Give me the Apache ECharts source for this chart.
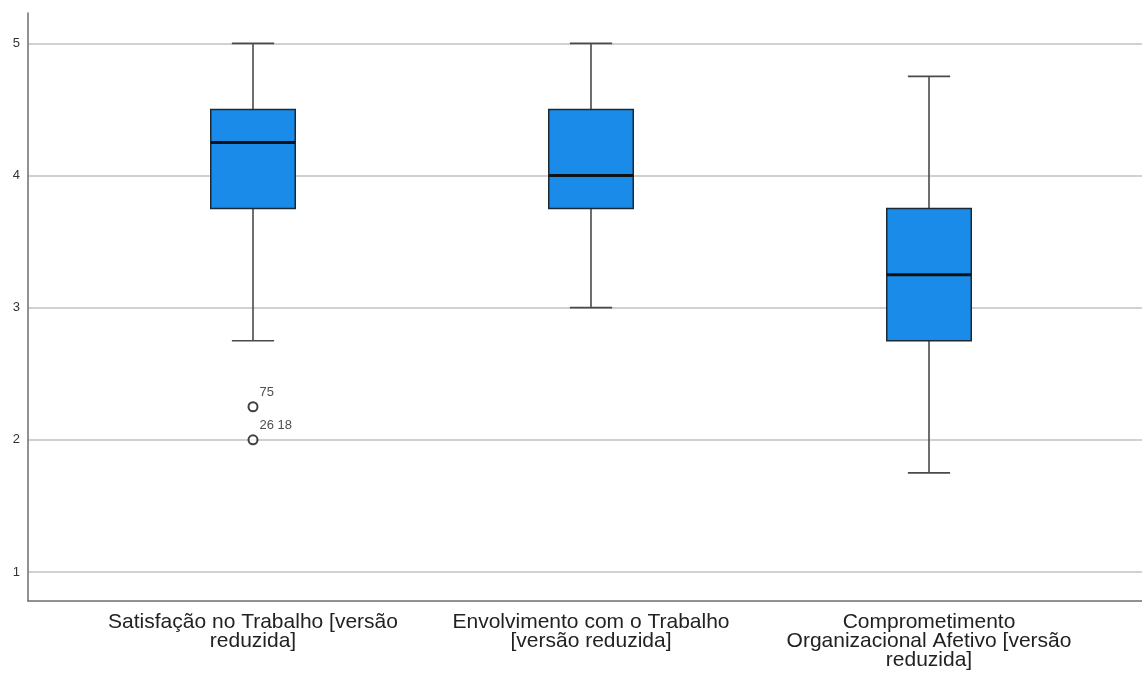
<!DOCTYPE html>
<html>
<head>
<meta charset="utf-8">
<script src="https://cdn.jsdelivr.net/npm/echarts@6/dist/echarts.min.js"></script>
<style>
  html, body { margin: 0; padding: 0; background: #fff; }
  #main { width: 1142px; height: 676px; }
</style>
</head>
<body>
<div id="main"></div>
<script>
var categories = [
    'Satisfação no Trabalho [versão\nreduzida]',
    'Envolvimento com o Trabalho\n[versão reduzida]',
    'Comprometimento\nOrganizacional Afetivo [versão\nreduzida]'
];
var whiskerLow = [2.75, 3.00, 1.75];
var q1 = [3.75, 3.75, 2.75];
var median = [4.25, 4.00, 3.25];
var q3 = [4.50, 4.50, 3.75];
var whiskerHigh = [5.00, 5.00, 4.75];

// outliers (case numbers as labels)
var outlierCat = [0, 0];
var outlierValue = [2.25, 2.00];
var outlierLabel = ['75', '26 18'];

var yTicks = [1, 2, 3, 4, 5];

var boxColor = '#1a8be8';
var fontFam = '"Liberation Sans", Arial, sans-serif';

var boxData = categories.map(function (c, i) {
    return [i, whiskerLow[i], q1[i], median[i], q3[i], whiskerHigh[i]];
});
var outlierData = outlierCat.map(function (c, i) {
    return [c, outlierValue[i], outlierLabel[i]];
});

function renderBox(params, api) {
    var x = api.value(0);
    var lo = api.coord([x, api.value(1)]);
    var b1 = api.coord([x, api.value(2)]);
    var md = api.coord([x, api.value(3)]);
    var b3 = api.coord([x, api.value(4)]);
    var hi = api.coord([x, api.value(5)]);
    var w = api.size([1, 0])[0] * 0.25;
    var cx = Math.round(lo[0]);
    var whisk = { stroke: '#4a4a4a', lineWidth: 1.6 };
    return {
        type: 'group',
        children: [
            { type: 'line', shape: { x1: cx, y1: lo[1], x2: cx, y2: b1[1] }, style: whisk },
            { type: 'line', shape: { x1: cx, y1: b3[1], x2: cx, y2: hi[1] }, style: whisk },
            { type: 'line', shape: { x1: cx - w / 4, y1: lo[1], x2: cx + w / 4, y2: lo[1] }, style: whisk },
            { type: 'line', shape: { x1: cx - w / 4, y1: hi[1], x2: cx + w / 4, y2: hi[1] }, style: whisk },
            {
                type: 'rect',
                shape: { x: cx - w / 2, y: b3[1], width: w, height: b1[1] - b3[1] },
                style: { fill: boxColor, stroke: '#1c2a36', lineWidth: 1.5 }
            },
            { type: 'line', shape: { x1: cx - w / 2, y1: md[1], x2: cx + w / 2, y2: md[1] },
              style: { stroke: '#0d1418', lineWidth: 3 } }
        ]
    };
}

var chart = echarts.init(document.getElementById('main'));
chart.setOption({
    animation: false,
    grid: [
        { left: 28, right: 0, top: 13, bottom: 75 },
        { left: 84, right: 44, top: 13, bottom: 75 }
    ],
    xAxis: [
        {
            gridIndex: 0, type: 'value', min: 0, max: 1,
            axisLine: { show: true, lineStyle: { color: '#6e6e6e', width: 1.5 } },
            axisTick: { show: false }, axisLabel: { show: false }, splitLine: { show: false }
        },
        {
            gridIndex: 1, type: 'category', data: categories,
            axisLine: { show: false }, axisTick: { show: false },
            axisLabel: {
                interval: 0, margin: 12, color: '#222', fontSize: 21, lineHeight: 19,
                fontFamily: fontFam, align: 'center'
            }
        }
    ],
    yAxis: [
        {
            gridIndex: 0, type: 'value', min: 0.78, max: 5.23,
            axisLine: { show: true, lineStyle: { color: '#6e6e6e', width: 1.5 } },
            axisTick: { show: false, customValues: yTicks },
            axisLabel: { customValues: yTicks, color: '#333', fontSize: 13, margin: 8, fontFamily: fontFam },
            splitLine: { show: true, lineStyle: { color: '#c2c2c2', width: 1.5 } }
        },
        {
            gridIndex: 1, type: 'value', min: 0.78, max: 5.23, show: false,
            splitLine: { show: false }
        }
    ],
    series: [
        {
            type: 'custom',
            xAxisIndex: 1, yAxisIndex: 1,
            renderItem: renderBox,
            encode: { x: 0, y: [1, 2, 3, 4, 5] },
            data: boxData,
            z: 2
        },
        {
            type: 'scatter',
            xAxisIndex: 1, yAxisIndex: 1,
            symbol: 'circle', symbolSize: 9,
            itemStyle: { color: '#fff', borderColor: '#111', borderWidth: 2 },
            label: {
                show: true, position: 'right', distance: 1, offset: [0, -14],
                formatter: function (p) { return p.value[2]; },
                color: '#222', fontSize: 13, fontFamily: fontFam
            },
            data: outlierData,
            z: 3
        }
    ]
});
</script>
</body>
</html>
